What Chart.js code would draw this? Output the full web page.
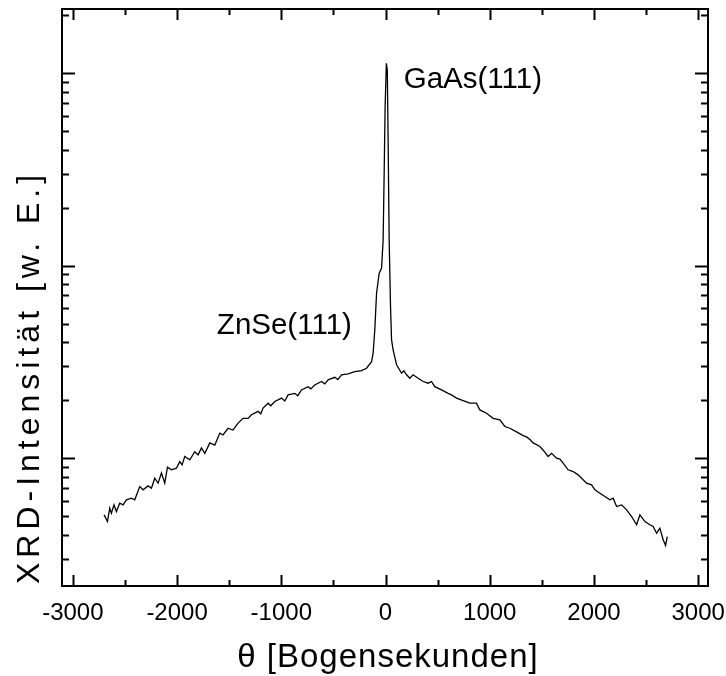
<!DOCTYPE html>
<html>
<head>
<meta charset="utf-8">
<script src="https://cdn.jsdelivr.net/npm/chart.js@4.4.1/dist/chart.umd.min.js"></script>
<style>
  html, body { margin: 0; padding: 0; background: #fff; }
  #wrap { width: 726px; height: 676px; }
</style>
</head>
<body>
<div id="wrap"><canvas id="xrdChart"></canvas></div>
<script>
const thetaArcsec = [-2700,-2668,-2646,-2630,-2605,-2582,-2550,-2518,-2486,-2438,
  -2406,-2358,-2326,-2278,-2246,-2214,-2182,-2150,-2118,-2092,
  -2054,-2006,-1974,-1952,-1926,-1878,-1830,-1798,-1766,-1734,
  -1686,-1638,-1590,-1559,-1511,-1463,-1415,-1367,-1319,-1286,
  -1223,-1197,-1175,-1127,-1101,-1062,-998,-966,-935,-870,
  -842,-806,-743,-717,-679,-614,-583,-551,-487,-458,
  -422,-359,-295,-230,-182,-134,-119,-103,-86,-61,
  -38,-23,-13,-4,8,17,25,35,48,58,
  73,106,154,176,202,233,265,313,361,409,
  441,473,537,601,633,681,745,809,873,905,
  969,1033,1097,1145,1193,1257,1321,1353,1385,1417,
  1481,1513,1560,1593,1641,1673,1704,1752,1800,1848,
  1881,1929,1977,2009,2057,2105,2153,2184,2217,2265,
  2313,2361,2409,2441,2489,2536,2568,2601,2632,2664,
  2687,2703];
const intensity = [50.8,46.9,55.0,51.8,57.2,52.8,58.4,57.2,60.8,62.0,
  60.8,71.2,68.5,71.8,69.9,78.7,74.2,83.6,74.2,89.8,
  87.0,88.7,96.0,92.3,102,98.0,108,104,113,106,
  120,117,135,132,143,140,152,161,161,168,
  175,170,182,193,187,197,205,198,213,217,
  211,226,235,229,240,250,243,255,263,256,
  271,274,281,285,293,317,351,463,718,912,
  968,1358,3013,6678,11220,10350,4486,1358,612,411,
  365,305,276,284,271,260,271,260,250,245,
  250,235,226,217,213,205,199,193,193,178,
  171,161,158,146,143,137,131,129,125,120,
  115,110,102,106,100,98.8,94.2,87.0,85.2,81.9,
  78.7,74.2,72.7,68.5,65.8,63.2,60.8,62.0,56.1,57.2,
  53.9,49.8,45.1,50.8,46.9,45.1,44.2,40.8,43.3,37.7,
  35.2,39.2];

// Achsen
const xTickValues = [-3000, -2000, -1000, 0, 1000, 2000, 3000];
const xMinorValues = [-2500, -1500, -500, 500, 1500, 2500];
const yDecades = [100, 1000, 10000];
const yMinorFactors = [2, 3, 4, 5, 6, 7, 8, 9];

const FONT = "'Liberation Sans', Arial, sans-serif";

// Rahmen, Ticks nach innen, Beschriftungen
const framePlugin = {
    id: 'frame',
    afterDatasetsDraw(chart) {
        const { ctx, chartArea: a, scales } = chart;
        const xs = scales.x, ys = scales.y;
        ctx.save();
        ctx.strokeStyle = '#000';
        ctx.lineWidth = 2;
        ctx.strokeRect(a.left, a.top, a.right - a.left, a.bottom - a.top);

        ctx.beginPath();
        const xTick = (v, len) => {
            const px = Math.round(xs.getPixelForValue(v)) + 0.5;
            ctx.moveTo(px, a.bottom); ctx.lineTo(px, a.bottom - len);
            ctx.moveTo(px, a.top); ctx.lineTo(px, a.top + len);
        };
        xTickValues.forEach(v => xTick(v, 11));
        xMinorValues.forEach(v => xTick(v, 6));

        const yTick = (v, len) => {
            if (v < ys.min || v > ys.max) return;
            const py = Math.round(ys.getPixelForValue(v)) + 0.5;
            ctx.moveTo(a.left, py); ctx.lineTo(a.left + len, py);
            ctx.moveTo(a.right, py); ctx.lineTo(a.right - len, py);
        };
        yDecades.forEach(d => {
            yTick(d, 13);
            yMinorFactors.forEach(f => { yTick(d * f, 7); yTick(d * f / 10, 7); });
        });
        ctx.stroke();

        // Peak-Beschriftungen
        ctx.fillStyle = '#000';
        ctx.font = '29.5px ' + FONT;
        ctx.textBaseline = 'middle';
        ctx.textAlign = 'left';
        ctx.fillText('GaAs(111)', xs.getPixelForValue(175), ys.getPixelForValue(9190));
        ctx.textAlign = 'right';
        ctx.fillText('ZnSe(111)', xs.getPixelForValue(-323), ys.getPixelForValue(486));

        // Achsentitel
        ctx.font = '33px ' + FONT;
        ctx.textAlign = 'center';
        ctx.letterSpacing = '1px';
        ctx.fillText('\u03b8 [Bogensekunden]', 388, 658);
        ctx.translate(30, 377);
        ctx.rotate(-Math.PI / 2);
        ctx.font = '32px ' + FONT;
        ctx.letterSpacing = '5px';
        ctx.fillText('XRD-Intensit\u00e4t [w. E.]', 0, 0);
        ctx.restore();
    }
};

const chartCtx = document.getElementById('xrdChart').getContext('2d');
new Chart(chartCtx, {
    type: 'line',
    data: {
        datasets: [{
            data: thetaArcsec.map((t, i) => ({ x: t, y: intensity[i] })),
            borderColor: '#000',
            borderWidth: 1.3,
            pointRadius: 0,
            tension: 0,
            fill: false
        }]
    },
    options: {
        responsive: true,
        maintainAspectRatio: false,
        animation: false,
        events: [],
        layout: { padding: { top: 9, right: 18, left: 0, bottom: 0 } },
        plugins: { legend: { display: false }, tooltip: { enabled: false } },
        scales: {
            x: {
                type: 'linear',
                min: -3104,
                max: 3094,
                grid: { display: false, drawTicks: false },
                border: { display: false },
                afterBuildTicks: s => { s.ticks = xTickValues.map(v => ({ value: v })); },
                afterFit: s => { s.height = 90; s.paddingLeft = 0; s.paddingRight = 0; },
                ticks: {
                    color: '#000',
                    padding: 13,
                    maxRotation: 0,
                    autoSkip: false,
                    font: { family: FONT, size: 24 },
                    callback: v => String(v)
                }
            },
            y: {
                type: 'logarithmic',
                min: 21.7,
                max: 21460,
                grid: { display: false, drawTicks: false },
                border: { display: false },
                ticks: { display: false },
                afterFit: s => { s.width = 62; }
            }
        }
    },
    plugins: [framePlugin]
});
</script>
</body>
</html>
